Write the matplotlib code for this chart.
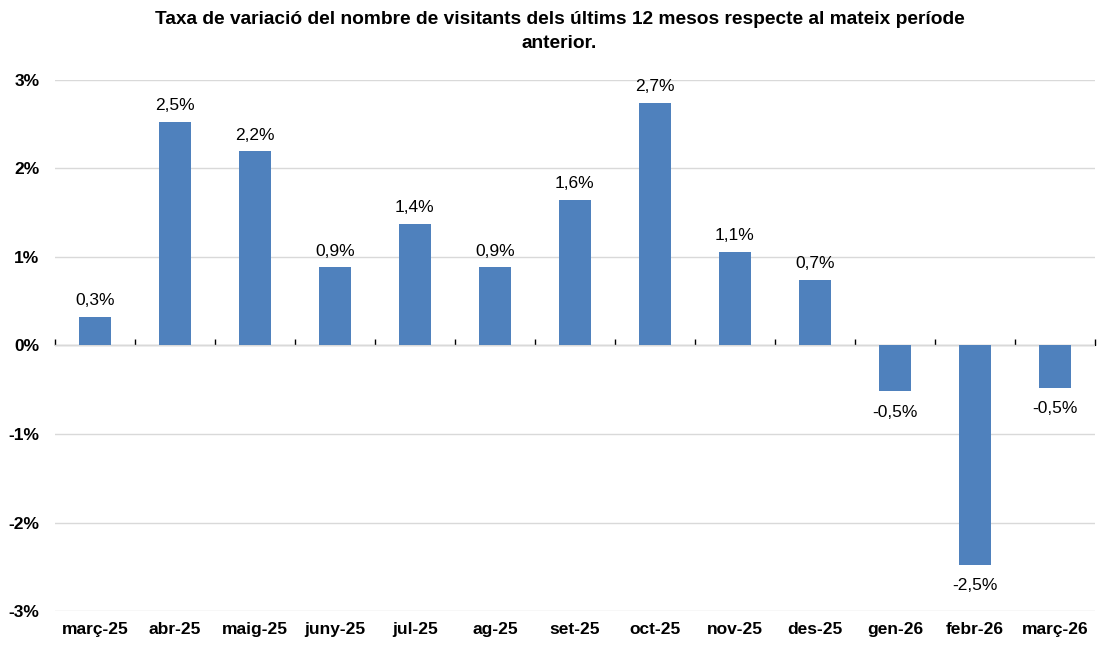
import matplotlib.pyplot as plt
import numpy as np

mesos = ["març-25", "abr-25", "maig-25", "juny-25", "jul-25", "ag-25", "set-25",
         "oct-25", "nov-25", "des-25", "gen-26", "febr-26", "març-26"]
taxa = [0.32, 2.52, 2.19, 0.88, 1.37, 0.88, 1.64, 2.74, 1.06, 0.74, -0.52, -2.48, -0.48]

plt.rcParams['font.family'] = ['Liberation Sans', 'DejaVu Sans']

fig = plt.figure(figsize=(10.97, 6.48), dpi=100)
ax = fig.add_axes([0.050, 0.057, 0.948, 0.820])

x = np.arange(len(mesos))
ax.bar(x, taxa, width=0.4, color="#4F81BD", zorder=3)

for xi, v in zip(x, taxa):
    txt = f"{v:.1f}%".replace(".", ",")
    if v >= 0:
        ax.text(xi, v + 0.1, txt, ha="center", va="bottom", fontsize=12.5)
    else:
        ax.text(xi, v - 0.15, txt, ha="center", va="top", fontsize=12.5)

ax.set_xlim(-0.5, len(mesos) - 0.5)
ax.set_ylim(-3, 3)
ax.set_yticks(range(-3, 4))
ax.set_yticklabels([f"{t}%" for t in range(-3, 4)], fontsize=12.5, fontweight="bold")
ax.set_xticks(x)
ax.set_xticklabels(mesos, fontsize=12.5, fontweight="bold")
ax.tick_params(axis="x", length=0, pad=8)
ax.tick_params(axis="y", length=0, pad=11)
ax.grid(axis="y", color="#d9d9d9", linewidth=1, zorder=0)
for s in ax.spines.values():
    s.set_visible(False)

# eix del zero amb marques entre categories
sec = ax.secondary_xaxis(0.5)
sec.set_xticks(np.arange(-0.5, len(mesos), 1))
sec.set_xticklabels([])
sec.tick_params(length=4, width=1, color="black", direction="out")
sec.spines["bottom"].set_color("black")
sec.spines["bottom"].set_linewidth(1)

fig.suptitle("Taxa de variació del nombre de visitants dels últims 12 mesos respecte al mateix període\nanterior.",
             fontsize=13.8, fontweight="bold", y=0.983, x=0.51, linespacing=1.55)

fig.savefig("out.png")
